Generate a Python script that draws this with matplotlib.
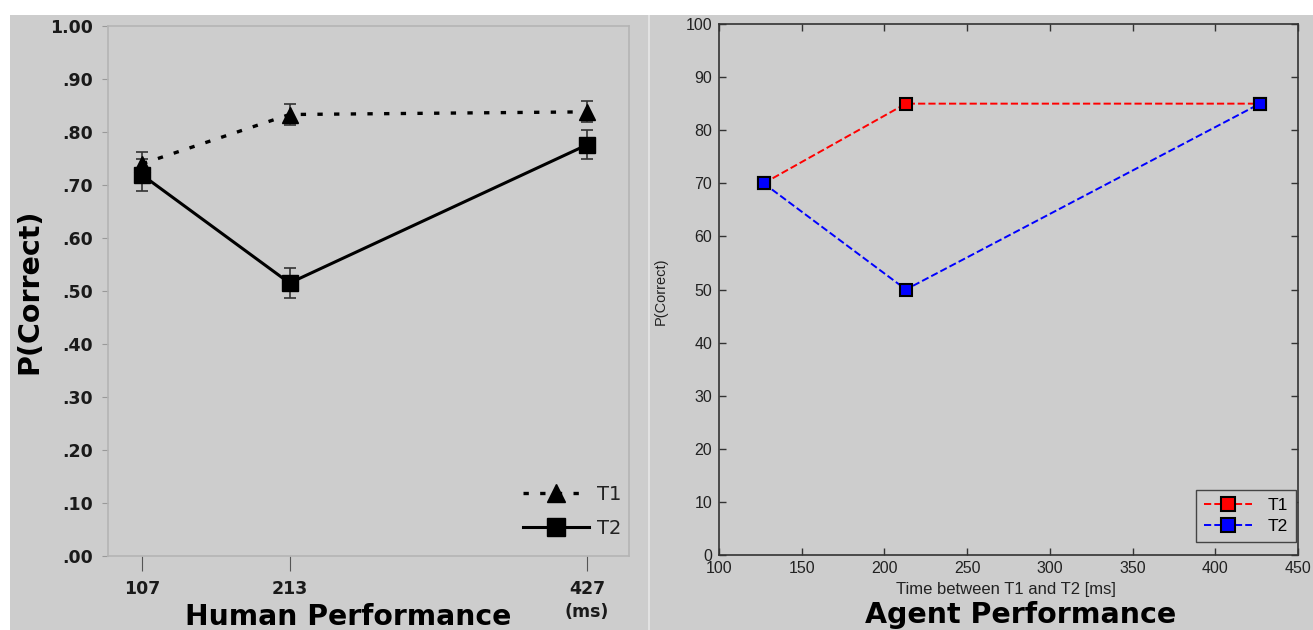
import numpy as np
import matplotlib
matplotlib.use('Agg')
import matplotlib.pyplot as plt
from matplotlib.patches import Rectangle

# human data (left)
h_x = [107, 213, 427]
h_t1 = [0.74, 0.833, 0.838]
h_t1_err = [0.022, 0.02, 0.02]
h_t2 = [0.719, 0.515, 0.776]
h_t2_err = [0.03, 0.029, 0.027]
h_yticks = [0.0, 0.1, 0.2, 0.3, 0.4, 0.5, 0.6, 0.7, 0.8, 0.9, 1.0]
h_ylabels = ['.00', '.10', '.20', '.30', '.40', '.50', '.60', '.70', '.80', '.90', '1.00']

# agent data (right)
a_x = [127, 213, 427]
a_t1 = [70, 85, 85]
a_t2 = [70, 50, 85]

bg = '#cdcdcd'
W, H = 1313, 630
fig = plt.figure(figsize=(W/100, H/100), dpi=100)
fig.patch.set_facecolor('white')
fig.patches.append(Rectangle((10/W, 0), (648-10)/W, (H-15)/H, transform=fig.transFigure,
                             facecolor=bg, edgecolor='none', zorder=-10))
fig.patches.append(Rectangle((650/W, 0), (W-650)/W, (H-15)/H, transform=fig.transFigure,
                             facecolor=bg, edgecolor='none', zorder=-10))
fig.patches.append(Rectangle((648/W, 0), 2/W, (H-15)/H, transform=fig.transFigure,
                             facecolor='#e2e2e2', edgecolor='none', zorder=-10))

# ---- left panel ----
ax1 = fig.add_axes([108/W, 74/H, 521/W, 530/H])
ax1.set_facecolor(bg)
for s in ax1.spines.values():
    s.set_color('#b4b4b4')
    s.set_linewidth(1.2)
ax1.errorbar(h_x, h_t1, yerr=h_t1_err, fmt='none', ecolor='#333333', elinewidth=1.2,
             capsize=4, capthick=1.2)
ax1.errorbar(h_x, h_t2, yerr=h_t2_err, fmt='none', ecolor='#333333', elinewidth=1.2,
             capsize=4, capthick=1.2)
ax1.plot(h_x, h_t1, color='black', linestyle=(0, (1.6, 3.4)), linewidth=2.4,
         marker='^', markersize=12, label='T1')
ax1.plot(h_x, h_t2, color='black', linestyle='-', linewidth=2.2,
         marker='s', markersize=12, label='T2')
ax1.set_xlim(82.5, 457)
ax1.set_ylim(0, 1.0)
ax1.set_yticks(h_yticks)
ax1.set_yticklabels(h_ylabels)
ax1.set_xticks(h_x)
ax1.set_xticklabels([str(v) for v in h_x])
ax1.tick_params(axis='y', length=4, color='#999999', pad=7, labelsize=12.5)
ax1.tick_params(axis='x', length=11, color='#555555', pad=6, labelsize=12.5)
for lab in ax1.get_xticklabels() + ax1.get_yticklabels():
    lab.set_fontweight('bold')
    lab.set_color('#1a1a1a')
ax1.set_ylabel('P(Correct)', fontsize=20.5, fontweight='bold')
ax1.yaxis.set_label_coords(-0.125, 0.5)
leg1 = ax1.legend(loc='lower right', frameon=False, fontsize=14, handlelength=3.4,
                  handletextpad=0.4, labelspacing=0.75, borderaxespad=0.0,
                  bbox_to_anchor=(1.0, 0.02), markerscale=1.1)
for t in leg1.get_texts():
    t.set_color('#222222')
fig.text(587/W, 1 - 612/H, '(ms)', fontsize=12.5, fontweight='bold', ha='center',
         va='center', color='#1a1a1a')
fig.text(348/W, 1 - 603/H, 'Human Performance', fontsize=20.3, fontweight='bold',
         ha='center', va='top')

# ---- right panel ----
ax2 = fig.add_axes([719/W, 75/H, 579/W, 531/H])
ax2.set_facecolor(bg)
for s in ax2.spines.values():
    s.set_color('#333333')
    s.set_linewidth(1.2)
ax2.plot(a_x, a_t1, color='red', linestyle='--', linewidth=1.4, marker='s', markersize=8,
         markerfacecolor='red', markeredgecolor='black', markeredgewidth=1.5, label='T1')
ax2.plot(a_x, a_t2, color='blue', linestyle='--', linewidth=1.4, marker='s', markersize=8,
         markerfacecolor='blue', markeredgecolor='black', markeredgewidth=1.5, label='T2')
ax2.set_xlim(100, 450)
ax2.set_ylim(0, 100)
ax2.set_xticks(np.arange(100, 451, 50))
ax2.set_yticks(np.arange(0, 101, 10))
ax2.tick_params(direction='in', top=True, right=True, length=5, width=1, color='#333333',
                labelsize=11.5, labelcolor='#222222')
ax2.tick_params(axis='x', pad=4)
ax2.tick_params(axis='y', pad=5)
for lab in ax2.get_xticklabels() + ax2.get_yticklabels():
    lab.set_family('Liberation Sans')
ax2.set_xlabel('Time between T1 and T2 [ms]', fontsize=12, family='Liberation Sans',
               color='#222222')
ax2.xaxis.set_label_coords(0.496, -0.051)
ax2.set_ylabel('P(Correct)', fontsize=10.5, family='Liberation Sans', color='#222222')
ax2.yaxis.set_label_coords(-0.088, 0.497)
leg2 = ax2.legend(loc='lower right', fancybox=False, framealpha=1,
                  facecolor=bg, edgecolor='#444444', handlelength=2.8, borderaxespad=0.0,
                  bbox_to_anchor=(0.997, 0.025), labelspacing=0.35, markerscale=1.25,
                  handletextpad=0.9, borderpad=0.45,
                  prop={'family': 'Liberation Sans', 'size': 12.5})
fig.text(1021/W, 1 - 601/H, 'Agent Performance', fontsize=20.5, fontweight='bold',
         ha='center', va='top')

plt.savefig('out.png', dpi=100)
